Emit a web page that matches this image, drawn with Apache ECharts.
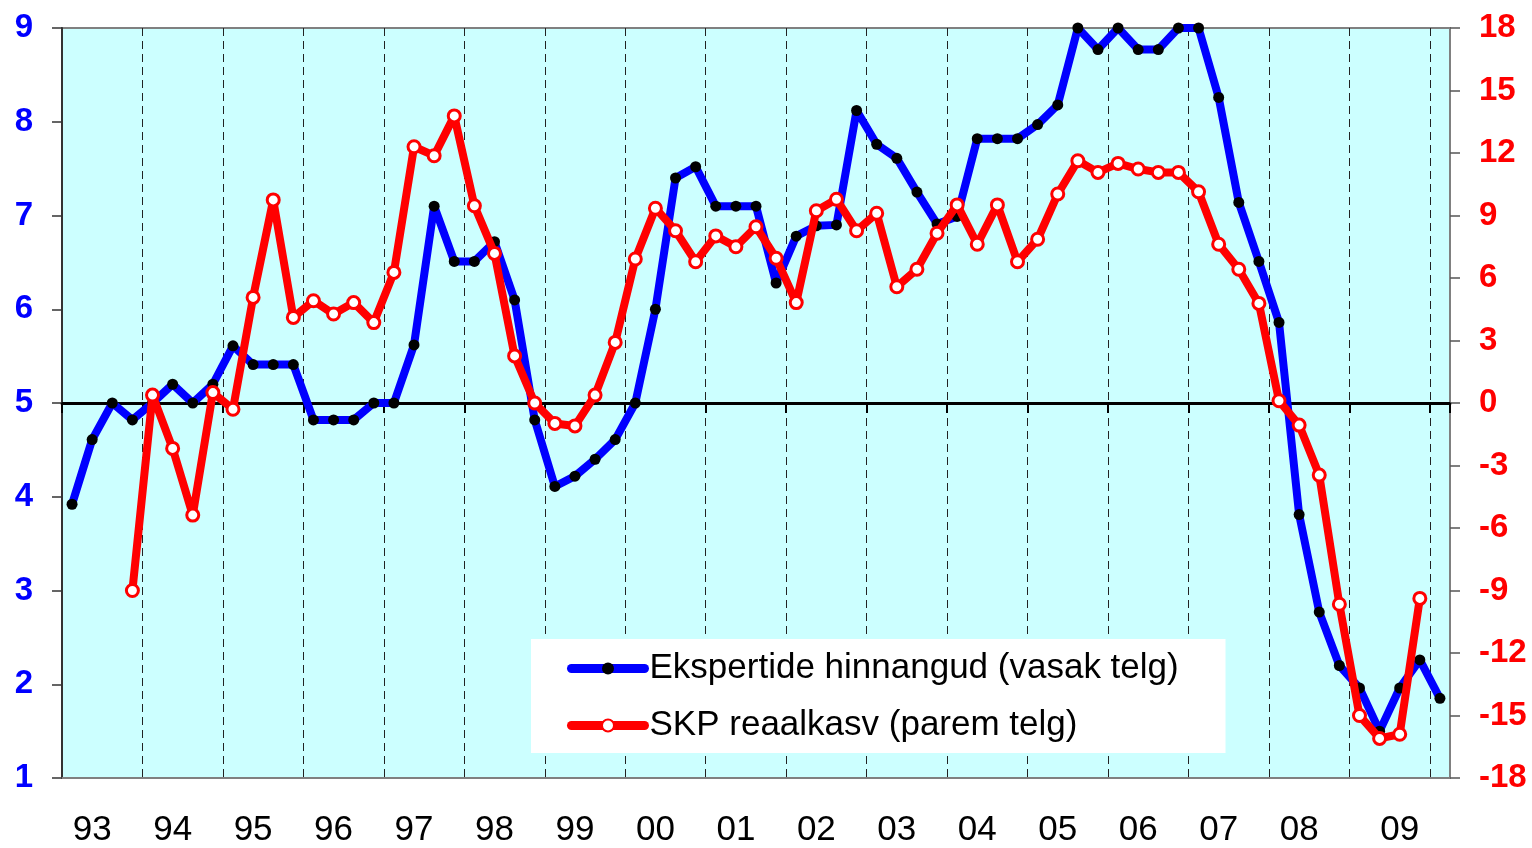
<!DOCTYPE html>
<html>
<head>
<meta charset="utf-8">
<script src="https://cdn.jsdelivr.net/npm/echarts@6/dist/echarts.min.js"></script>
<style>
html,body{margin:0;padding:0;background:#fff;}
#chart{width:1532px;height:848px;}
</style>
</head>
<body>
<div id="chart"></div>
<script>
// Tick labels (two-digit years) and quarters
const yearLabels = ['93','94','95','96','97','98','99','00','01','02','03','04','05','06','07','08','09','10'];
const quarterNames = ['I','II','III','IV'];
// quarter under which each year label is printed (default 'II'; the last year's label sits under 'III')
const labelQuarterOverride = {'09': 'III'};

// Ekspertide hinnangud (left axis), quarterly 1993 I .. 2010 I
const expertValues = [
  3.92, 4.61, 5.00, 4.82,
  5.00, 5.20, 5.00, 5.20,
  5.61, 5.41, 5.41, 5.41,
  4.82, 4.82, 4.82, 5.00,
  5.00, 5.62, 7.10, 6.51,
  6.51, 6.72, 6.10, 4.82,
  4.11, 4.22, 4.40, 4.61,
  5.00, 6.00, 7.40, 7.52,
  7.10, 7.10, 7.10, 6.28,
  6.78, 6.89, 6.90, 8.12,
  7.76, 7.61, 7.25, 6.91,
  6.99, 7.82, 7.82, 7.82,
  7.97, 8.18, 9.00, 8.77,
  9.00, 8.77, 8.77, 9.00,
  9.00, 8.26, 7.14, 6.51,
  5.86, 3.81, 2.77, 2.20,
  1.96, 1.50, 1.96, 2.26,
  1.85
];

// SKP reaalkasv (right axis), quarterly 1993 I .. 2010 I
const gdpValues = [
  null, null, null, -9.00,
  0.38, -2.18, -5.38, 0.50,
  -0.30, 5.07, 9.75, 4.11,
  4.91, 4.27, 4.82, 3.86,
  6.27, 12.30, 11.87, 13.78,
  9.47, 7.18, 2.26, 0.00,
  -0.98, -1.10, 0.38, 2.91,
  6.91, 9.35, 8.27, 6.78,
  8.02, 7.50, 8.46, 6.95,
  4.82, 9.23, 9.78, 8.27,
  9.11, 5.58, 6.42, 8.15,
  9.51, 7.62, 9.51, 6.78,
  7.86, 10.03, 11.63, 11.07,
  11.50, 11.23, 11.07, 11.07,
  10.14, 7.62, 6.42, 4.78,
  0.11, -1.06, -3.46, -9.66,
  -15.00, -16.10, -15.90, -9.38,
  null
];

const seriesNames = ['Ekspertide hinnangud (vasak telg)', 'SKP reaalkasv (parem telg)'];

const categories = [];
for (const y of yearLabels) {
  for (const q of quarterNames) {
    if (categories.length < expertValues.length) categories.push(y + ' ' + q);
  }
}
function showYearLabel(idx) {
  const parts = categories[idx].split(' ');
  const want = labelQuarterOverride[parts[0]] || 'II';
  return parts[1] === want;
}

const FONT = "'Liberation Sans', Arial, sans-serif";
const chart = echarts.init(document.getElementById('chart'), null, {renderer: 'canvas'});

const option = {
  animation: false,
  backgroundColor: '#ffffff',
  grid: {
    left: 62, right: 82, top: 28, bottom: 70,
    show: true,
    backgroundColor: '#CCFFFF',
    borderColor: '#808080',
    borderWidth: 2
  },
  legend: {
    orient: 'vertical',
    left: 531,
    top: 639,
    backgroundColor: '#ffffff',
    padding: [12, 30, 10, 36],
    itemGap: 22,
    itemWidth: 73,
    itemHeight: 15,
    selectedMode: false,
    data: seriesNames,
    lineStyle: {width: 9, cap: 'round'},
    textStyle: {
      fontFamily: FONT,
      fontSize: 35,
      lineHeight: 35,
      color: '#000',
      width: 546
    }
  },
  xAxis: [
    {
      type: 'category',
      data: categories,
      position: 'bottom',
      boundaryGap: true,
      axisLine: {onZero: false, lineStyle: {color: '#808080', width: 2}},
      axisTick: {show: false},
      axisLabel: {
        interval: (idx) => showYearLabel(idx),
        formatter: (v) => v.split(' ')[0],
        margin: 35,
        fontFamily: FONT,
        fontSize: 35,
        color: '#000'
      },
      splitLine: {
        show: true,
        interval: (idx) => idx % 4 === 0 && idx > 0,
        lineStyle: {color: '#222222', width: 1, type: [8, 5]}
      }
    },
    {
      type: 'category',
      data: categories,
      position: 'top',
      boundaryGap: true,
      axisLine: {onZero: true, onZeroAxisIndex: 1, lineStyle: {color: '#000', width: 3}},
      axisTick: {show: true, inside: true, length: 10, interval: (idx) => idx % 4 === 0, lineStyle: {color: '#000', width: 2}},
      axisLabel: {show: false},
      splitLine: {show: false}
    }
  ],
  yAxis: [
    {
      type: 'value',
      position: 'left',
      min: 1, max: 9, interval: 1,
      axisLine: {show: true, lineStyle: {color: '#333333', width: 2}},
      axisTick: {show: true, length: 10, lineStyle: {color: '#333333', width: 1.5}},
      axisLabel: {margin: 29, fontFamily: FONT, fontSize: 33, fontWeight: 'bold', color: '#0000FF'},
      splitLine: {show: false}
    },
    {
      type: 'value',
      position: 'right',
      min: -18, max: 18, interval: 3,
      axisLine: {show: true, lineStyle: {color: '#808080', width: 2}},
      axisTick: {show: true, length: 10, lineStyle: {color: '#555555', width: 1.5}},
      axisLabel: {margin: 29, fontFamily: FONT, fontSize: 33, fontWeight: 'bold', color: '#FF0000'},
      splitLine: {show: false}
    }
  ],
  series: [
    {
      name: seriesNames[0],
      type: 'line',
      xAxisIndex: 0,
      yAxisIndex: 0,
      data: expertValues,
      clip: false,
      symbol: 'circle',
      symbolSize: 11,
      itemStyle: {color: '#000000'},
      lineStyle: {color: '#0000FF', width: 8, cap: 'round', join: 'round'},
      emphasis: {disabled: true},
      z: 3
    },
    {
      name: seriesNames[1],
      type: 'line',
      xAxisIndex: 0,
      yAxisIndex: 1,
      data: gdpValues,
      clip: false,
      symbol: 'circle',
      symbolSize: 12,
      itemStyle: {color: '#FFFFFF', borderColor: '#FF0000', borderWidth: 3},
      lineStyle: {color: '#FF0000', width: 8, cap: 'round', join: 'round'},
      emphasis: {disabled: true},
      z: 4
    }
  ]
};
chart.setOption(option);
</script>
</body>
</html>
